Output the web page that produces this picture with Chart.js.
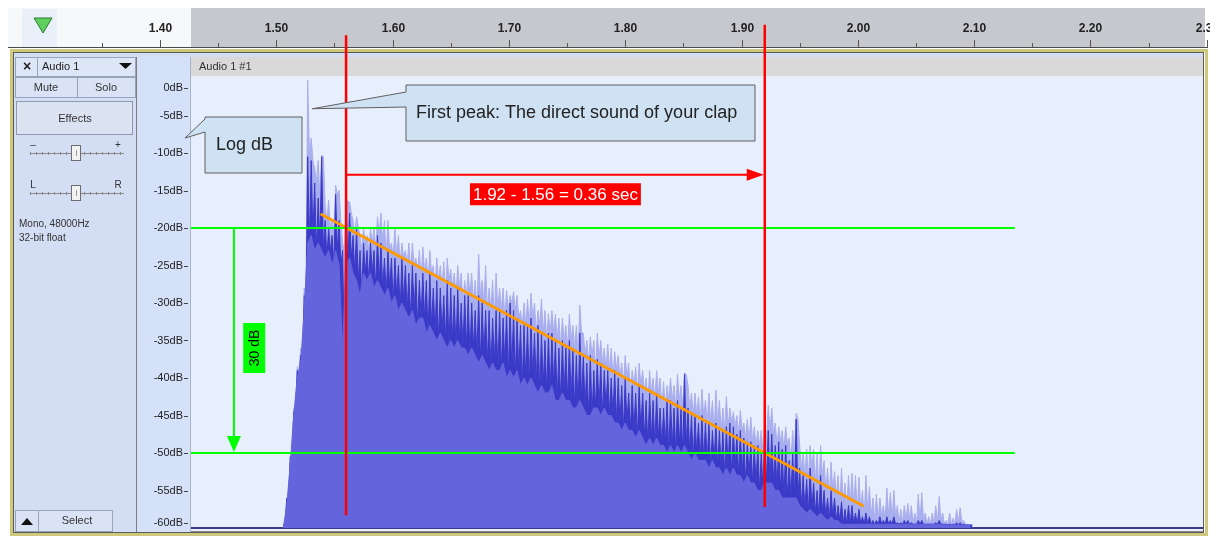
<!DOCTYPE html>
<html>
<head>
<meta charset="utf-8">
<script src="https://cdn.jsdelivr.net/npm/chart.js@4"></script>
<style>
  html, body { margin: 0; padding: 0; background: #fff; }
  canvas { display: block; }
</style>
</head>
<body>
<canvas id="chart" width="1219" height="538"></canvas>
<script>
var ctx = document.getElementById('chart').getContext('2d');

// envelope of the clap, one sample every waveStep seconds from waveStart (dB)
const waveStart = 1.506;
const waveStep = 0.003;

// highest peaks (pale spikes)
const peakMaxDb = [
  -59.5, -56, -50.5, -44, -38.5, -36, -28, -0.3, -8, -12,
  -11, -10.3, -17, -16.3, -19, -14.3, -15, -22, -16, -16.5,
  -19, -18.5, -21, -20, -21, -20, -20, -18.5, -18, -19,
  -19, -22, -20, -21, -22, -23, -22, -22, -24, -23,
  -22.5, -24, -23, -25, -24, -25, -24.5, -24, -25.5, -26,
  -25, -26, -27, -26, -26, -27, -23.5, -27, -25, -28,
  -27, -26, -28, -28, -28.3, -29, -28.5, -29, -31, -30,
  -29.5, -28.7, -30, -31, -29.5, -31, -31.4, -31, -31.5, -32,
  -32, -33, -31.5, -33, -33, -30.3, -34, -35, -34.5, -35,
  -34, -35, -36, -35.5, -36, -36.5, -37, -38, -37, -38,
  -39, -38.5, -38, -39, -40, -39, -40, -39, -40, -40.5,
  -41, -40, -41, -39.5, -41, -39.3, -41, -42, -42, -42.5,
  -41.5, -43, -42, -43, -41.6, -43, -44, -42.5, -44, -44.5,
  -45, -44.3, -46, -45.5, -45.2, -46.5, -47, -47, -46, -43.6,
  -44, -46, -46.5, -47, -46.5, -48, -47, -44.7, -49, -50,
  -49.5, -49, -49.5, -50, -49, -51, -52, -51.2, -52.5, -53,
  -52, -54, -53, -52.7, -53, -53.2, -55, -53, -54.5, -56,
  -55.5, -56, -57, -54.7, -55.3, -55, -57, -57.5, -57, -56.7,
  -57, -58, -55.5, -55.3, -58, -58.5, -58, -57, -55.8, -58,
  -59, -58, -58.7, -57.5, -57.3, -59, -59.5, -59.6
];

// peak level (dark blue)
const peakDb = [
  -59.5, -56, -50.5, -44.5, -39, -37, -29, -10.5, -11, -14,
  -16, -10.5, -19, -20, -21, -15.5, -19, -23, -16.5, -18,
  -21, -20, -23, -22, -23, -22, -23, -21, -22, -24,
  -23, -24, -24, -25, -24, -25, -26, -25, -26, -27,
  -26, -27, -26, -28, -27, -28, -29, -27, -28, -29,
  -28, -30, -29, -29, -30, -31, -29, -30, -31, -31,
  -32, -31, -31, -32, -31, -30, -31, -32, -33, -33,
  -33, -32, -34, -33, -34, -35, -34, -34, -35, -36,
  -35, -36, -35, -36, -37, -34, -37, -38, -37, -39,
  -37.5, -38, -39, -39, -40, -39, -40, -41, -40, -42,
  -41, -42, -41, -42, -43, -42, -43, -42, -44, -44,
  -43, -43, -44, -43, -44, -39.5, -44, -45, -45, -46,
  -45, -46, -46, -47, -46, -47, -47, -46.5, -46, -46.5,
  -47.5, -47, -48, -48.5, -48.5, -49, -49, -50, -48, -47,
  -47.5, -49, -48.5, -49.5, -49, -51, -50, -45.5, -52, -53,
  -53.5, -52, -54, -55, -53, -55, -56, -55, -56, -57,
  -56.5, -57.5, -57, -57, -58, -57.5, -58.5, -58, -58.5, -59,
  -59, -58.5, -59, -58.5, -59, -58.5, -59.3, -59.3, -59, -59,
  -59.3, -59.5, -59, -59, -59.5, -59.5, -59.5, -59.3, -59, -59.5,
  -59.5, -59.5, -59.5, -59.3, -59.3, -59.5, -59.6, -59.6
];

// rms level (medium blue)
const rmsDb = [
  -60, -57, -51.5, -45, -40, -38, -31, -22, -21, -23,
  -22, -23, -24, -23, -25, -23, -25, -36, -25, -24,
  -26, -27, -29, -26, -27, -26, -28, -27, -28, -29,
  -28, -30, -29, -31, -30, -31, -32, -31, -33, -32,
  -32, -34, -33, -34, -35, -34, -35, -36, -35, -36,
  -35, -36, -36, -37, -36, -37, -38, -37, -38, -39,
  -38, -39, -39, -38, -40, -39, -40, -39, -41, -40,
  -41, -40, -41, -42, -41, -42, -42, -41, -43, -43,
  -42, -43, -43, -44, -44, -43, -44, -45, -45, -44,
  -44, -45, -44, -45, -45, -46, -46, -47, -46, -47,
  -47, -48, -47, -48, -49, -48, -49, -48, -49, -49,
  -50, -49, -50, -49, -50, -49, -50, -51, -50, -51,
  -51, -51, -52, -51, -52, -52, -53, -52, -53, -52,
  -53, -53, -54, -53, -54, -54, -55, -55, -54, -54,
  -54, -55, -55, -56, -56, -56, -56, -56, -57, -57.5,
  -58, -57.5, -58, -58.5, -58, -58.5, -59, -58.5, -59, -59,
  -59.5, -59.5, -59.5, -59.5, -59.5, -59.5, -59.5, -59.5, -59.5, -59.5,
  -59.5, -59.5, -59.5, -59.5, -59.5, -59.5, -59.5, -59.5, -59.5, -59.5,
  -59.5, -59.5, -59.5, -59.5, -59.5, -59.5, -59.5, -59.5, -59.5, -59.5,
  -59.6, -59.6, -59.6, -59.6, -59.6, -59.6, -59.6, -59.6
];

// axes
const rulerMajor = [1.30, 1.40, 1.50, 1.60, 1.70, 1.80, 1.90, 2.00, 2.10, 2.20, 2.30];
const rulerMinor = [1.35, 1.45, 1.55, 1.65, 1.75, 1.85, 1.95, 2.05, 2.15, 2.25];
const dbTicks = [0, -5, -10, -15, -20, -25, -30, -35, -40, -45, -50, -55, -60];

// annotations
const markTimes = [1.56, 1.92];
const markTopDb = [5.7, 7.1];
const markBottomDb = [-58.3, -57.2];
const spanArrowDb = -12.9;
const spanLabelDb = -15.5;
const levelDb = [-20, -50];
const levelEnd = 2.135;
const levelArrowTime = 1.4636;
const levelLabelTime = 1.481;
const levelLabelDb = -36;
const fitTimes = [1.539, 2.004];
const fitDb = [-18.2, -57.0];
const peakNoteTime = 1.531;
const peakNoteDb = -4.1;

const FONT = '"Liberation Sans", Arial, sans-serif';

function toPts(arr) {
    return arr.map((v, i) => ({ x: waveStart + i * waveStep, y: v }));
}
// each sample drawn as a spike: top at the sample, back down to the lower level half a step later
function spikes(tops, bases) {
    const pts = [];
    tops.forEach((v, i) => {
        const t = waveStart + i * waveStep;
        pts.push({ x: t, y: v });
        pts.push({ x: t + waveStep / 2, y: bases[i] });
    });
    return pts;
}

function line(c, x1, y1, x2, y2) {
    c.beginPath(); c.moveTo(x1, y1); c.lineTo(x2, y2); c.stroke();
}
function tri(c, x1, y1, x2, y2, x3, y3) {
    c.beginPath(); c.moveTo(x1, y1); c.lineTo(x2, y2); c.lineTo(x3, y3); c.closePath(); c.fill();
}
function txt(c, s, x, y, font, color, align) {
    c.font = font; c.fillStyle = color;
    c.textAlign = align || 'left'; c.textBaseline = 'middle';
    c.fillText(s, x, y);
}
function box(c, x, y, w, h, fill, stroke) {
    if (fill) { c.fillStyle = fill; c.fillRect(x, y, w, h); }
    if (stroke) { c.strokeStyle = stroke; c.lineWidth = 1; c.strokeRect(x + 0.5, y + 0.5, w - 1, h - 1); }
}
function slider(c, y, left, right) {
    txt(c, left, 33, y - 8, '10px ' + FONT, '#333', 'center');
    txt(c, right, 118, y - 8, '10px ' + FONT, '#333', 'center');
    c.strokeStyle = '#8a8a8a'; c.lineWidth = 1;
    line(c, 30, y + 0.5, 124, y + 0.5);
    for (let x = 30; x <= 124; x += 6) line(c, x + 0.5, y - 1, x + 0.5, y + 2);
    box(c, 71, y - 8, 10, 16, '#f2f2f2', '#6d6d6d');
    c.strokeStyle = '#999'; line(c, 76.5, y - 3, 76.5, y + 3);
}
function callout(c, bx, by, bw, bh, tipX, tipY, baseTop, baseBottom, text, tx) {
    c.beginPath();
    c.moveTo(bx, by);
    c.lineTo(bx + bw, by);
    c.lineTo(bx + bw, by + bh);
    c.lineTo(bx, by + bh);
    c.lineTo(bx, baseBottom);
    c.lineTo(tipX, tipY);
    c.lineTo(bx, baseTop);
    c.closePath();
    c.fillStyle = '#cfe2f3'; c.fill();
    c.strokeStyle = '#5f5f5f'; c.lineWidth = 1; c.stroke();
    txt(c, text, tx, by + bh / 2, '18px ' + FONT, '#222', 'left');
}

// Audacity window around the plot area
const chromePlugin = {
    id: 'chrome',
    beforeDraw(chart) {
        const c = chart.ctx, xs = chart.scales.x, ys = chart.scales.y, a = chart.chartArea;
        c.save();
        c.fillStyle = '#ffffff'; c.fillRect(0, 0, chart.width, chart.height);

        // time ruler
        c.save();
        c.beginPath(); c.rect(8, 8, 1202, 41); c.clip();
        c.fillStyle = '#f7f8fa'; c.fillRect(8, 8, a.left - 8, 40);
        c.fillStyle = '#c7c8cd'; c.fillRect(a.left, 8, a.right - a.left + 2, 40);
        c.strokeStyle = '#555'; c.lineWidth = 1;
        rulerMinor.forEach(t => {
            const x = Math.round(xs.getPixelForValue(t)) + 0.5;
            line(c, x, 43, x, 47);
        });
        rulerMajor.forEach(t => {
            const x = Math.round(xs.getPixelForValue(t)) + 0.5;
            line(c, x, 40, x, 47);
            txt(c, t.toFixed(2), x, 29, 'bold 12px ' + FONT, '#222', 'center');
        });
        c.restore();
        c.strokeStyle = '#4a4a4a'; c.lineWidth = 1;
        line(c, 8, 47.5, 1208, 47.5);

        // play head button
        box(c, 22, 9, 35, 38, '#eaf0fa', null);
        c.fillStyle = '#5fcf5f';
        tri(c, 34, 18, 52, 18, 43, 33);
        c.strokeStyle = '#2f7a2f'; c.lineWidth = 1;
        c.beginPath(); c.moveTo(34, 18); c.lineTo(52, 18); c.lineTo(43, 33); c.closePath(); c.stroke();

        // track frame
        c.fillStyle = '#d3def4'; c.fillRect(13, 52, 1191, 481);
        c.strokeStyle = '#cdc87c'; c.lineWidth = 3; c.strokeRect(11.5, 50.5, 1195, 484);
        c.strokeStyle = '#5a5a5a'; c.lineWidth = 1; c.strokeRect(13.5, 52.5, 1190, 480);

        // dB ruler column
        c.fillStyle = '#d5e1f9'; c.fillRect(137, 57, a.left - 137, 475);
        c.strokeStyle = '#7d7d7d'; line(c, 136.5, 57, 136.5, 532);
        c.strokeStyle = '#a9b3c6'; line(c, a.left - 0.5, 57, a.left - 0.5, 532);

        // clip title bar and plot background
        c.fillStyle = '#d9d9d9'; c.fillRect(a.left, 57, a.right - a.left, 19);
        txt(c, 'Audio 1 #1', a.left + 8, 67, '11px ' + FONT, '#333', 'left');
        c.fillStyle = '#e8effc'; c.fillRect(a.left, 76, a.right - a.left, a.bottom - 76 + 3);
        c.strokeStyle = '#3b3b8a'; c.lineWidth = 2;
        line(c, a.left, a.bottom, a.right, a.bottom);
        c.strokeStyle = '#8a8a8a'; c.lineWidth = 1;
        line(c, a.left, a.bottom + 3.5, a.right, a.bottom + 3.5);

        // dB labels
        dbTicks.forEach(db => {
            let y = ys.getPixelForValue(db);
            y = Math.min(Math.max(y, 88), 523);
            txt(c, db + 'dB', 183, y, '11px ' + FONT, '#222', 'right');
            c.strokeStyle = '#444'; line(c, 184, Math.round(y) + 0.5, 188, Math.round(y) + 0.5);
        });

        // track control panel
        box(c, 15, 57, 23, 20, '#dde6f7', '#98a4ba');
        box(c, 37, 57, 99, 20, '#dde6f7', '#98a4ba');
        txt(c, '\u00d7', 27, 67, 'bold 14px ' + FONT, '#222', 'center');
        txt(c, 'Audio 1', 42, 67, '11px ' + FONT, '#222', 'left');
        c.fillStyle = '#111'; tri(c, 119, 63, 132, 63, 125.5, 69);
        box(c, 15, 77, 63, 21, '#d9e3f5', '#98a4ba');
        box(c, 77, 77, 59, 21, '#d9e3f5', '#98a4ba');
        txt(c, 'Mute', 46, 88, '11px ' + FONT, '#333', 'center');
        txt(c, 'Solo', 106, 88, '11px ' + FONT, '#333', 'center');
        box(c, 16, 101, 117, 34, '#dbe3f3', '#8f9ab0');
        txt(c, 'Effects', 75, 119, '11px ' + FONT, '#333', 'center');
        slider(c, 153, '\u2013', '+');
        slider(c, 193, 'L', 'R');
        txt(c, 'Mono, 48000Hz', 19, 224, '10px ' + FONT, '#333', 'left');
        txt(c, '32-bit float', 19, 238, '10px ' + FONT, '#333', 'left');
        box(c, 15, 510, 24, 22, '#d9e3f5', '#98a4ba');
        c.fillStyle = '#111'; tri(c, 21, 525, 33, 525, 27, 518);
        box(c, 38, 510, 75, 22, '#d9e3f5', '#98a4ba');
        txt(c, 'Select', 77, 521, '11px ' + FONT, '#333', 'center');
        c.restore();
    }
};

// measurement marks, arrows and notes drawn on top of the waveform
const notesPlugin = {
    id: 'notes',
    afterDatasetsDraw(chart) {
        const c = chart.ctx, xs = chart.scales.x, ys = chart.scales.y, a = chart.chartArea;
        const X = v => xs.getPixelForValue(v), Y = v => ys.getPixelForValue(v);
        c.save();

        // -20 dB and -50 dB levels
        c.strokeStyle = '#00ff00'; c.lineWidth = 2;
        levelDb.forEach(db => line(c, a.left, Y(db), X(levelEnd), Y(db)));
        const ax = X(levelArrowTime);
        line(c, ax, Y(levelDb[0]), ax, Y(levelDb[1]) - 12);
        c.fillStyle = '#00ff00';
        tri(c, ax - 7, Y(levelDb[1]) - 17, ax + 7, Y(levelDb[1]) - 17, ax, Y(levelDb[1]) - 1);
        const lx = X(levelLabelTime), ly = Y(levelLabelDb);
        c.fillRect(lx - 11, ly - 25, 22, 50);
        c.save();
        c.translate(lx, ly); c.rotate(-Math.PI / 2);
        txt(c, '30 dB', 0, 1, '14px ' + FONT, '#000', 'center');
        c.restore();

        // reverb time markers
        c.strokeStyle = '#ff0000'; c.lineWidth = 2.5;
        markTimes.forEach((t, i) => line(c, X(t), Y(markTopDb[i]), X(t), Y(markBottomDb[i])));
        const ry = Y(spanArrowDb);
        c.lineWidth = 2;
        line(c, X(markTimes[0]), ry, X(markTimes[1]) - 12, ry);
        c.fillStyle = '#ff0000';
        tri(c, X(markTimes[1]) - 18, ry - 6, X(markTimes[1]) - 18, ry + 6, X(markTimes[1]) - 1, ry);
        const label = '1.92 - 1.56 = 0.36 sec';
        c.font = '17px ' + FONT;
        const w = c.measureText(label).width + 6;
        const cx = X((markTimes[0] + markTimes[1]) / 2), cy = Y(spanLabelDb);
        c.fillStyle = '#ff0000'; c.fillRect(cx - w / 2, cy - 11, w, 22);
        txt(c, label, cx, cy + 1, '17px ' + FONT, '#ffffff', 'center');

        // callouts
        callout(c, 205, 117, 97, 56, 185, 138, 119, 132, 'Log dB', 216);
        callout(c, 406, 85, 349, 56, X(peakNoteTime), Y(peakNoteDb), 92, 107,
            'First peak: The direct sound of your clap', 416);
        c.restore();
    }
};

var chart = new Chart(ctx, {
    type: 'line',
    data: {
        datasets: [
            {
                label: 'Peak max',
                data: spikes(peakMaxDb, peakDb),
                borderColor: '#a9aeee',
                backgroundColor: '#a9aeee',
                borderWidth: 1,
                fill: 'start',
                order: 4
            },
            {
                label: 'Peak',
                data: spikes(peakDb, rmsDb),
                borderColor: '#3a3ac8',
                backgroundColor: '#3a3ac8',
                borderWidth: 1,
                fill: 'start',
                order: 3
            },
            {
                label: 'RMS',
                data: toPts(rmsDb),
                borderColor: '#6464dc',
                backgroundColor: '#6464dc',
                borderWidth: 1,
                fill: 'start',
                order: 2
            },
            {
                label: 'Decay fit',
                data: fitTimes.map((t, i) => ({ x: t, y: fitDb[i] })),
                borderColor: '#ff9900',
                borderWidth: 3,
                borderCapStyle: 'round',
                fill: false,
                order: 1
            }
        ]
    },
    options: {
        responsive: false,
        animation: false,
        devicePixelRatio: 1,
        layout: { padding: { left: 191, right: 16, top: 78, bottom: 10 } },
        elements: { point: { radius: 0 }, line: { tension: 0 } },
        scales: {
            x: { type: 'linear', min: 1.426655, max: 2.296818, display: false },
            y: { min: -60, max: 0, display: false }
        },
        plugins: { legend: { display: false }, tooltip: { enabled: false } }
    },
    plugins: [chromePlugin, notesPlugin]
});
</script>
</body>
</html>
